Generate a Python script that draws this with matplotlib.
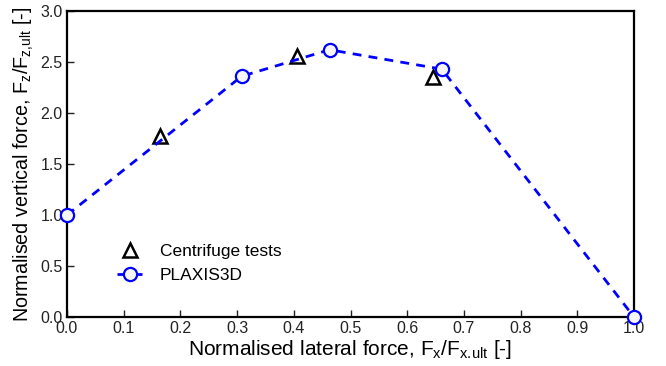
import matplotlib
matplotlib.use("Agg")
import matplotlib.pyplot as plt
import numpy as np

plt.rcParams['font.family'] = ['Liberation Sans', 'DejaVu Sans']
plt.rcParams['mathtext.fontset'] = 'custom'
plt.rcParams['mathtext.rm'] = 'Liberation Sans'
plt.rcParams['mathtext.it'] = 'Liberation Sans'

# Centrifuge test results
cent_x = [0.164, 0.406, 0.645]
cent_z = [1.77, 2.56, 2.35]

# PLAXIS3D failure envelope
plx_x = [0.0, 0.308, 0.463, 0.661, 1.0]
plx_z = [1.0, 2.36, 2.62, 2.43, 0.0]

fig = plt.figure(figsize=(6.66, 3.66), dpi=100)
ax = fig.add_axes([67/666, 49/366, 567/666, 306/366])

ax.plot(cent_x, cent_z, linestyle='none', marker='^', markersize=9.5,
        markerfacecolor='white', markeredgecolor='black', markeredgewidth=1.8,
        label='Centrifuge tests', clip_on=False, zorder=3)
ax.plot(plx_x, plx_z, linestyle=(0, (3.2, 2.6)), color='#0000ff', linewidth=2,
        marker='o', markersize=9.5, markerfacecolor='#f6f6f6',
        markeredgecolor='#0000ff', markeredgewidth=1.6,
        label='PLAXIS3D', clip_on=False, zorder=4)

ax.set_xlim(0, 1.0)
ax.set_ylim(0, 3.0)
ax.set_xticks(np.arange(0, 1.01, 0.1))
ax.set_yticks(np.arange(0, 3.01, 0.5))
ax.xaxis.set_major_formatter(matplotlib.ticker.FormatStrFormatter('%.1f'))
ax.yaxis.set_major_formatter(matplotlib.ticker.FormatStrFormatter('%.1f'))
ax.tick_params(direction='in', length=5, width=1, labelsize=11.5, colors='#222222',
               labelcolor='#222222', pad=3)
for s in ax.spines.values():
    s.set_linewidth(1.6)
    s.set_color('black')

ax.set_xlabel(r'Normalised lateral force, F$_{\mathregular{x}}$/F$_{\mathregular{x.\!ult}}$ [-]',
              fontsize=15, labelpad=1)
ax.set_ylabel(r'Normalised vertical force, F$_{\mathregular{z}}$/F$_{\mathregular{z{,}ult}}$ [-]',
              fontsize=14.2, labelpad=3)

ax.legend(loc='upper left', bbox_to_anchor=(0.06, 0.29), frameon=False,
          fontsize=12.5, handlelength=1.5, handletextpad=1.0, labelspacing=0.5)

fig.savefig('out.png', dpi=100)
